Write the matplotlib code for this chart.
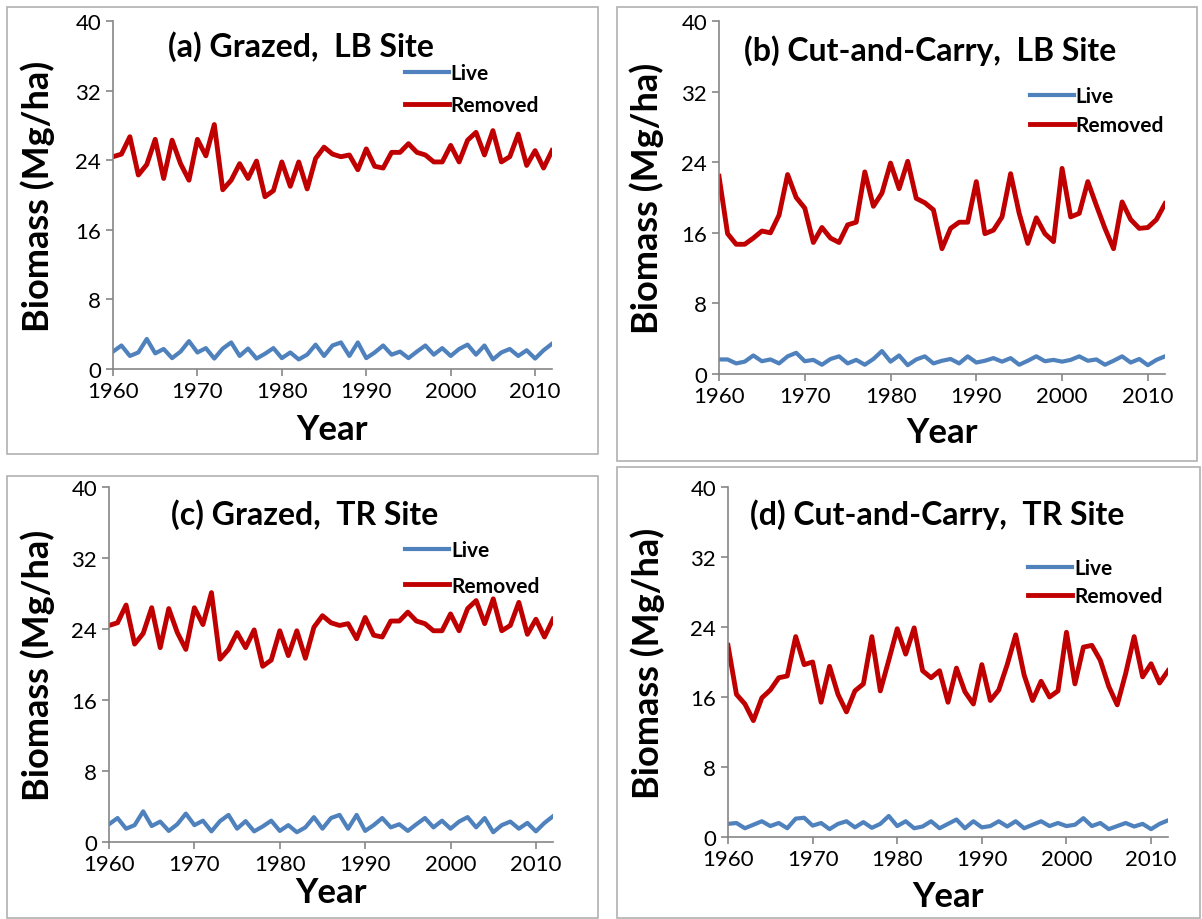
import numpy as np
import matplotlib
matplotlib.use('Agg')
import matplotlib.pyplot as plt
from matplotlib.patches import Rectangle

plt.rcParams['font.family'] = ['Lato', 'DejaVu Sans']

years = list(range(1960, 2013))

# Grazed plots (same simulated series at both sites)
grazed_live = [2.0, 2.7, 1.5, 1.9, 3.45, 1.8, 2.3, 1.25, 2.0, 3.2,
               1.9, 2.4, 1.2, 2.35, 3.05, 1.5, 2.35, 1.2, 1.75, 2.4,
               1.25, 1.9, 1.1, 1.65, 2.8, 1.5, 2.7, 3.05, 1.5, 3.05,
               1.25, 1.9, 2.7, 1.65, 2.0, 1.25, 2.0, 2.7, 1.65, 2.4,
               1.5, 2.3, 2.8, 1.65, 2.7, 1.1, 1.9, 2.3, 1.5, 2.15,
               1.2, 2.15, 2.9]
grazed_removed = [24.4, 24.7, 26.7, 22.3, 23.5, 26.4, 21.9, 26.3, 23.6, 21.7,
                  26.4, 24.5, 28.1, 20.6, 21.7, 23.6, 21.9, 23.9, 19.8, 20.5,
                  23.8, 21.0, 23.8, 20.7, 24.2, 25.5, 24.7, 24.4, 24.6, 22.9,
                  25.3, 23.3, 23.1, 24.9, 24.9, 25.9, 24.9, 24.6, 23.8, 23.8,
                  25.7, 23.8, 26.3, 27.2, 24.6, 27.4, 23.8, 24.4, 27.0, 23.4,
                  25.1, 23.1, 25.1]

# Cut-and-carry, LB site
cc_lb_live = [1.65, 1.65, 1.2, 1.4, 2.1, 1.45, 1.65, 1.2, 2.0, 2.4,
              1.45, 1.6, 1.05, 1.7, 2.0, 1.2, 1.6, 1.05, 1.7, 2.6,
              1.4, 2.1, 1.0, 1.65, 2.0, 1.2, 1.5, 1.7, 1.2, 2.0,
              1.3, 1.5, 1.8, 1.4, 1.8, 1.05, 1.5, 2.0, 1.45, 1.6,
              1.4, 1.6, 2.0, 1.5, 1.65, 1.05, 1.5, 2.0, 1.3, 1.7,
              1.0, 1.6, 2.0]
cc_lb_removed = [22.4, 15.9, 14.7, 14.7, 15.4, 16.2, 16.0, 18.0, 22.6, 20.0,
                 18.8, 14.9, 16.6, 15.4, 14.9, 16.9, 17.2, 22.9, 19.0, 20.5,
                 23.9, 21.0, 24.1, 19.9, 19.4, 18.6, 14.2, 16.5, 17.2, 17.2,
                 21.8, 15.9, 16.3, 17.8, 22.7, 18.2, 14.8, 17.7, 15.9, 15.0,
                 23.3, 17.8, 18.2, 21.8, 19.1, 16.5, 14.2, 19.5, 17.5, 16.5,
                 16.6, 17.5, 19.3]

# Cut-and-carry, TR site
cc_tr_live = [1.5, 1.6, 1.0, 1.4, 1.8, 1.25, 1.6, 1.0, 2.1, 2.2,
              1.3, 1.6, 0.9, 1.5, 1.8, 1.1, 1.7, 1.05, 1.5, 2.4,
              1.25, 1.8, 1.0, 1.2, 1.8, 1.0, 1.5, 2.0, 1.0, 1.8,
              1.1, 1.25, 1.8, 1.2, 1.8, 1.0, 1.4, 1.8, 1.25, 1.6,
              1.25, 1.4, 2.15, 1.25, 1.6, 0.9, 1.25, 1.6, 1.2, 1.5,
              0.9, 1.5, 1.9]
cc_tr_removed = [21.9, 16.3, 15.2, 13.3, 15.9, 16.8, 18.2, 18.4, 22.9, 19.7,
                 20.0, 15.4, 19.5, 16.3, 14.3, 16.7, 17.5, 22.9, 16.7, 20.2,
                 23.8, 20.9, 23.9, 19.0, 18.2, 19.0, 15.4, 19.3, 16.6, 15.2,
                 19.7, 15.6, 16.8, 19.7, 23.1, 18.5, 15.6, 17.8, 16.0, 16.7,
                 23.4, 17.5, 21.7, 21.9, 20.2, 17.2, 15.1, 18.7, 22.9, 18.3,
                 19.8, 17.6, 19.0]

titles = ['(a) Grazed,  LB Site', '(b) Cut-and-Carry,  LB Site',
          '(c) Grazed,  TR Site', '(d) Cut-and-Carry,  TR Site']

W, H = 1202, 920
fig = plt.figure(figsize=(W / 100, H / 100), dpi=100)

def px_rect(l, t, r, b):
    return [l / W, 1 - b / H, (r - l) / W, (b - t) / H]

# panel frames
for (l, t, r, b) in [(7, 8, 598, 455), (617, 8, 1197, 462),
                     (7, 477, 598, 919), (617, 468, 1200, 919)]:
    fig.patches.append(Rectangle((l / W, 1 - b / H), (r - l) / W, (b - t) / H,
                                 transform=fig.transFigure, fill=False,
                                 edgecolor='#b0b0b0', linewidth=1.2))

# axes rect, live, removed, title pos, legend anchor, legend spacing, ylabel x, xlabel y
panels = [
    (px_rect(113, 22, 552, 370), grazed_live, grazed_removed, (0.428, 0.928), (0.665, 0.878), 0.55, 38, 430),
    (px_rect(719, 22, 1165, 375), cc_lb_live, cc_lb_removed, (0.473, 0.920), (0.697, 0.816), 0.44, 647, 433),
    (px_rect(109, 488, 553, 843), grazed_live, grazed_removed, (0.441, 0.924), (0.667, 0.851), 0.76, 38, 893),
    (px_rect(728, 488, 1168, 838), cc_tr_live, cc_tr_removed, (0.475, 0.923), (0.682, 0.797), 0.40, 648, 897),
]

grey = '#868686'
for i, (rect, live, removed, tpos, lpos, lsp, ylx, xly) in enumerate(panels):
    ax = fig.add_axes(rect)
    ax.plot(years, live, color='#4f81bd', lw=3.0, label='Live', solid_joinstyle='round')
    ax.plot(years, removed, color='#c00000', lw=3.5, label='Removed', solid_joinstyle='round')
    ax.set_xlim(1960, 2012)
    ax.set_ylim(0, 40)
    ax.set_yticks(np.arange(0, 41, 8))
    ax.set_xticks(np.arange(1960, 2011, 10))
    for s in ['top', 'right']:
        ax.spines[s].set_visible(False)
    for s in ['left', 'bottom']:
        ax.spines[s].set_color(grey)
        ax.spines[s].set_linewidth(1.2)
    ax.tick_params(colors=grey, labelcolor='black', labelsize=16, length=5, width=1.2)
    ax.text(tpos[0], tpos[1], titles[i], transform=ax.transAxes, ha='center', va='center',
            fontsize=23, fontweight='bold')
    ax.legend(loc='upper left', bbox_to_anchor=lpos, frameon=False,
              prop={'weight': 'bold', 'size': 15}, handlelength=2.1,
              handletextpad=0.1, labelspacing=lsp, borderaxespad=0, borderpad=0)
    fig.text(ylx / W, rect[1] + rect[3] / 2, 'Biomass (Mg/ha)',
             rotation=90, ha='center', va='center', fontsize=26, fontweight='bold')
    fig.text(rect[0] + rect[2] / 2, 1 - xly / H, 'Year', ha='center', va='center',
             fontsize=25, fontweight='bold')

fig.savefig('out.png', dpi=100)
